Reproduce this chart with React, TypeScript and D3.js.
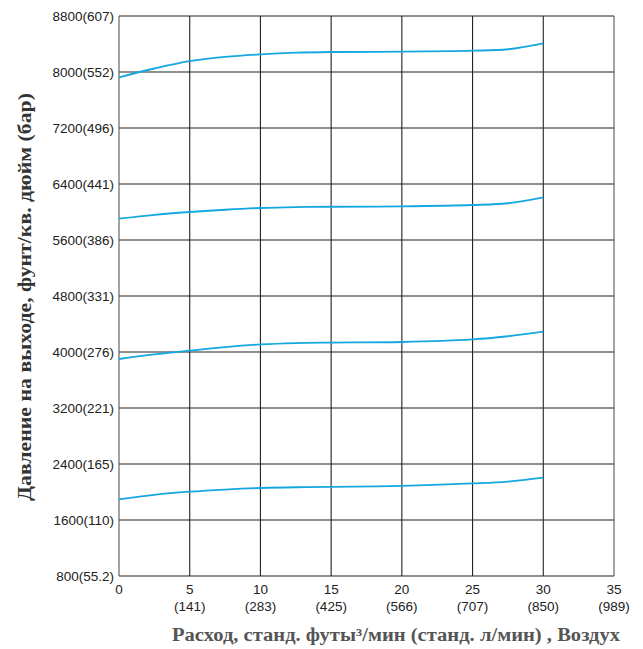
import React from "react";
import * as d3 from "d3";

const xTicks = [0, 5, 10, 15, 20, 25, 30, 35];
const xTickSub = ["", "(141)", "(283)", "(425)", "(566)", "(707)", "(850)", "(989)"];
const yTicks = [800, 1600, 2400, 3200, 4000, 4800, 5600, 6400, 7200, 8000, 8800];
const yTickSub = ["(55.2)", "(110)", "(165)", "(221)", "(276)", "(331)", "(386)", "(441)", "(496)", "(552)", "(607)"];

const flow = [0, 2.5, 5, 7.5, 10, 12.5, 15, 20, 25, 27.5, 30];
const series1 = [7924, 8050, 8155, 8215, 8252, 8276, 8286, 8290, 8304, 8325, 8410];
const series2 = [5904, 5960, 6000, 6032, 6057, 6070, 6075, 6081, 6100, 6125, 6210];
const series3 = [3900, 3965, 4019, 4070, 4108, 4128, 4135, 4143, 4180, 4225, 4290];
const series4 = [1896, 1960, 2004, 2035, 2057, 2068, 2072, 2088, 2122, 2148, 2204];

const xTitle = "Расход, станд. футы³/мин (станд. л/мин) , Воздух";
const yTitle = "Давление на выходе, фунт/кв. дюйм (бар)";

export default function App() {
  const W = 643, H = 649;
  const left = 119, right = 614, top = 16, bottom = 576;
  const x = d3.scaleLinear().domain([0, 35]).range([left, right]);
  const y = d3.scaleLinear().domain([800, 8800]).range([bottom, top]);
  const line = d3
    .line<[number, number]>()
    .x((d) => x(d[0]))
    .y((d) => y(d[1]))
    .curve(d3.curveCatmullRom.alpha(0.5));
  const all = [series1, series2, series3, series4];
  const tickFont = "'Liberation Sans', Arial, sans-serif";
  const titleFont = "'Liberation Serif', 'DejaVu Serif', serif";
  return (
    <svg width={W} height={H} style={{ position: "absolute", left: 0, top: 0, background: "#fff" }}>
      {yTicks.map((t) => (
        <line key={"h" + t} x1={left} x2={right} y1={y(t)} y2={y(t)} stroke="#222" strokeWidth={1.1} />
      ))}
      {xTicks.map((t) => (
        <line key={"v" + t} x1={x(t)} x2={x(t)} y1={top} y2={bottom} stroke={t === 0 || t === 35 ? "#555" : "#222"} strokeWidth={1.1} />
      ))}
      {all.map((s, i) => (
        <path
          key={"s" + i}
          d={line(flow.map((f, j) => [f, s[j]] as [number, number])) || ""}
          fill="none"
          stroke="#14a7e0"
          strokeWidth={1.8}
        />
      ))}
      {yTicks.map((t, i) => (
        <text
          key={"yl" + t}
          x={left - 5}
          y={y(t)}
          dy="0.35em"
          textAnchor="end"
          fontFamily={tickFont}
          fontSize={13.5}
          fill="#222"
        >
          {t + yTickSub[i]}
        </text>
      ))}
      {xTicks.map((t, i) => (
        <g key={"xl" + t}>
          <text x={x(t)} y={bottom + 18} textAnchor="middle" fontFamily={tickFont} fontSize={13.5} fill="#222">
            {t}
          </text>
          {xTickSub[i] && (
            <text x={x(t)} y={bottom + 35} textAnchor="middle" fontFamily={tickFont} fontSize={13.5} fill="#222">
              {xTickSub[i]}
            </text>
          )}
        </g>
      ))}
      <text
        x={396}
        y={641}
        textAnchor="middle"
        fontFamily={titleFont}
        fontWeight="bold"
        fontSize={18}
        fill="#555"
        textLength={448}
        lengthAdjust="spacingAndGlyphs"
      >
        {xTitle}
      </text>
      <text
        transform={`translate(31, 297) rotate(-90)`}
        textAnchor="middle"
        fontFamily={titleFont}
        fontWeight="bold"
        fontSize={18}
        fill="#333"
        textLength={408}
        lengthAdjust="spacingAndGlyphs"
      >
        {yTitle}
      </text>
    </svg>
  );
}
